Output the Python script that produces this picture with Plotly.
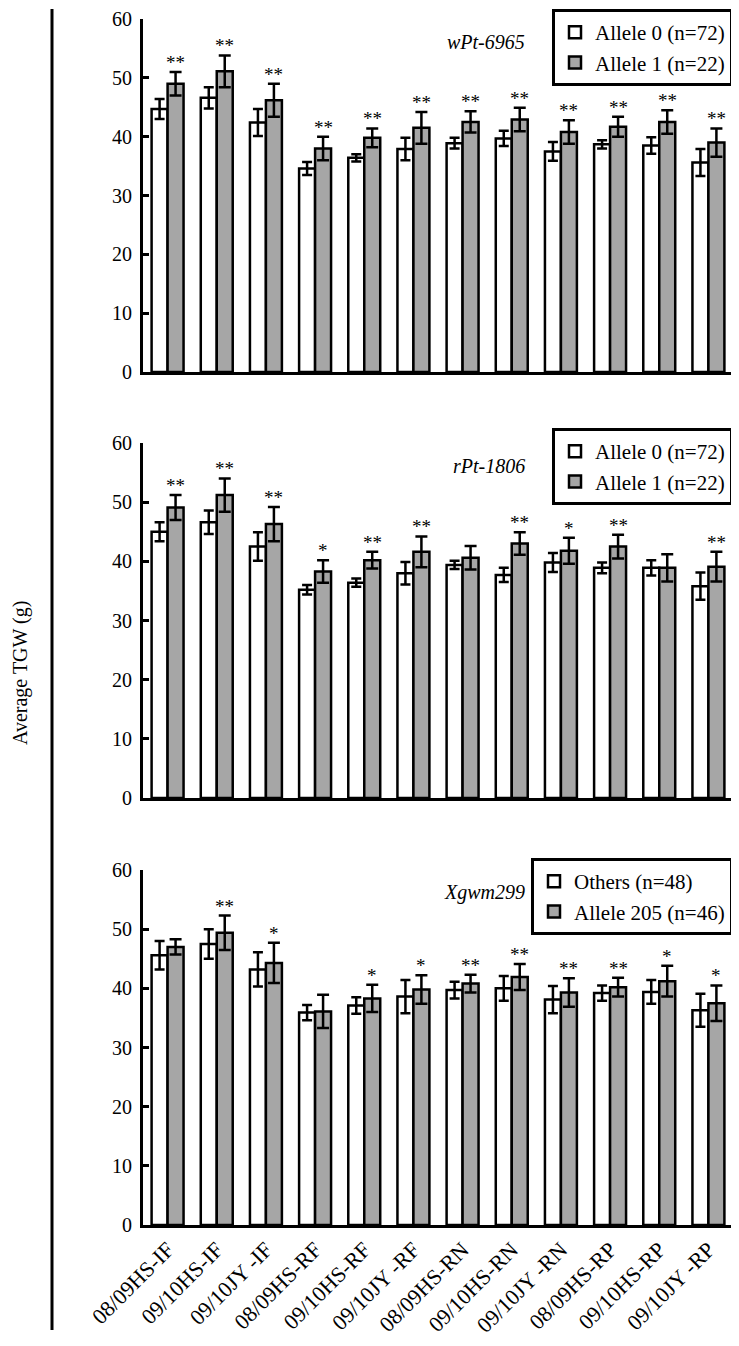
import plotly.graph_objects as go

categories = ["08/09HS-IF", "09/10HS-IF", "09/10JY -IF", "08/09HS-RF", "09/10HS-RF", "09/10JY -RF",
              "08/09HS-RN", "09/10HS-RN", "09/10JY -RN", "08/09HS-RP", "09/10HS-RP", "09/10JY -RP"]

# Panel 1: wPt-6965
p1_allele0 = [44.7, 46.6, 42.4, 34.6, 36.4, 37.9, 38.9, 39.7, 37.5, 38.7, 38.5, 35.6]
p1_allele0_err = [1.7, 1.8, 2.3, 1.1, 0.6, 1.9, 0.9, 1.3, 1.6, 0.7, 1.4, 2.3]
p1_allele1 = [49.0, 51.1, 46.2, 38.0, 39.8, 41.5, 42.5, 42.9, 40.8, 41.7, 42.5, 39.0]
p1_allele1_err = [2.0, 2.7, 2.8, 2.0, 1.6, 2.7, 1.8, 2.0, 2.0, 1.7, 2.0, 2.4]
p1_sig = ["**"] * 12

# Panel 2: rPt-1806
p2_allele0 = [45.0, 46.6, 42.5, 35.2, 36.4, 38.0, 39.4, 37.7, 39.8, 38.9, 38.9, 35.8]
p2_allele0_err = [1.6, 2.0, 2.4, 0.8, 0.7, 1.9, 0.7, 1.2, 1.6, 0.9, 1.3, 2.3]
p2_allele1 = [49.1, 51.2, 46.3, 38.3, 40.2, 41.6, 40.6, 43.0, 41.8, 42.5, 38.9, 39.1]
p2_allele1_err = [2.1, 2.8, 2.9, 1.9, 1.4, 2.6, 2.0, 1.9, 2.2, 2.0, 2.3, 2.5]
p2_sig = ["**", "**", "**", "*", "**", "**", "", "**", "*", "**", "", "**"]

# Panel 3: Xgwm299
p3_others = [45.6, 47.5, 43.2, 35.9, 37.1, 38.6, 39.7, 40.0, 38.1, 39.2, 39.4, 36.3]
p3_others_err = [2.4, 2.5, 2.9, 1.3, 1.4, 2.8, 1.4, 2.1, 2.3, 1.3, 2.0, 2.8]
p3_allele205 = [47.0, 49.4, 44.3, 36.1, 38.3, 39.8, 40.8, 41.9, 39.3, 40.2, 41.2, 37.5]
p3_allele205_err = [1.3, 2.9, 3.4, 2.8, 2.3, 2.4, 1.5, 2.2, 2.4, 1.6, 2.6, 3.0]
p3_sig = ["", "**", "*", "", "*", "*", "**", "**", "**", "**", "*", "*"]

panels = [
    ("wPt-6965", "Allele 0 (n=72)", p1_allele0, p1_allele0_err, "Allele 1 (n=22)", p1_allele1, p1_allele1_err, p1_sig),
    ("rPt-1806", "Allele 0 (n=72)", p2_allele0, p2_allele0_err, "Allele 1 (n=22)", p2_allele1, p2_allele1_err, p2_sig),
    ("Xgwm299", "Others (n=48)", p3_others, p3_others_err, "Allele 205 (n=46)", p3_allele205, p3_allele205_err, p3_sig),
]

FONT = "Liberation Serif, Times New Roman, serif"
GRAY = "#a6a6a6"
OFF = 8  # page body margin
W, H = 739 - OFF, 1346 - OFF
# target page pixel positions (converted to figure pixels by subtracting OFF)
AX_LEFT, AX_RIGHT = 143, 733
panel_px = [(19, 372), (443, 798), (870, 1225)]
legend_top_px = [9, 428, 858]

ML = AX_LEFT - OFF
MR = W - (AX_RIGHT - OFF)
MT = panel_px[0][0] - OFF
MB = H - (panel_px[2][1] - OFF)
plot_h = H - MT - MB
plot_w = W - ML - MR

def py(p):
    return (H - MB - (p - OFF)) / plot_h

def px(p):
    return ((p - OFF) - ML) / plot_w

fig = go.Figure()
annotations = []
layout_axes = {}
for i, (marker, n0, v0, e0, n1, v1, e1, sig) in enumerate(panels):
    k = "" if i == 0 else str(i + 1)
    xa, ya = "x" + k, "y" + k
    leg = "legend" + k
    fig.add_trace(go.Bar(x=categories, y=v0, name=n0, xaxis=xa, yaxis=ya, legend=leg,
                         marker=dict(color="white", line=dict(color="black", width=2.5)),
                         error_y=dict(type="data", array=e0, visible=True, color="black", thickness=2.5, width=5)))
    fig.add_trace(go.Bar(x=categories, y=v1, name=n1, xaxis=xa, yaxis=ya, legend=leg,
                         marker=dict(color=GRAY, line=dict(color="black", width=2.5)),
                         error_y=dict(type="data", array=e1, visible=True, color="black", thickness=2.5, width=6)))
    top, bot = panel_px[i]
    layout_axes["xaxis" + k] = dict(domain=[0, 1], anchor=ya, showline=True, linecolor="black", linewidth=3,
                                    ticks="", showgrid=False, showticklabels=(i == 2), tickangle=-45,
                                    ticklabeloverflow="allow",
                                    tickfont=dict(family=FONT, size=22, color="black"))
    layout_axes["yaxis" + k] = dict(domain=[py(bot), py(top)], anchor=xa, range=[0, 60], dtick=10,
                                    showline=True, linecolor="black", linewidth=3, ticks="inside",
                                    ticklen=6, tickwidth=3, tickcolor="black", showgrid=False, zeroline=False,
                                    ticklabelstandoff=4, ticklabeloverflow="allow",
                                    tickfont=dict(family=FONT, size=20, color="black"))
    layout_axes[leg] = dict(x=1, xanchor="right", y=py(legend_top_px[i]), yanchor="top",
                            bgcolor="white", bordercolor="black", borderwidth=3,
                            font=dict(family=FONT, size=21, color="black"), tracegroupgap=0,
                            itemwidth=30)
    annotations.append(dict(text="<i>%s</i>" % marker, xref="paper", yref="paper",
                            x=px(527), y=py(top + 23), xanchor="right", yanchor="middle",
                            showarrow=False, font=dict(family=FONT, size=20, color="black")))
    for j, s in enumerate(sig):
        if s:
            annotations.append(dict(text=s, xref=xa, yref=ya, x=categories[j], y=v1[j] + e1[j],
                                    xshift=8, yshift=-3, xanchor="center", yanchor="bottom", showarrow=False,
                                    font=dict(family=FONT, size=19, color="black")))

annotations.append(dict(text="Average TGW (g)", xref="paper", yref="paper", x=px(20),
                        y=py(673), textangle=-90, xanchor="center", yanchor="middle", showarrow=False,
                        font=dict(family=FONT, size=20, color="black")))

shapes = [dict(type="line", xref="paper", yref="paper",
               x0=px(52), x1=px(52), y0=py(9), y1=py(1330), line=dict(color="black", width=3))]

fig.update_layout(width=W, height=H, margin=dict(l=ML, r=MR, t=MT, b=MB, autoexpand=False),
                  plot_bgcolor="white", paper_bgcolor="white", barmode="group", bargap=0.35, bargroupgap=0,
                  annotations=annotations, shapes=shapes, showlegend=True,
                  font=dict(family=FONT, size=20, color="black"), **layout_axes)
fig.write_html("out.html")
